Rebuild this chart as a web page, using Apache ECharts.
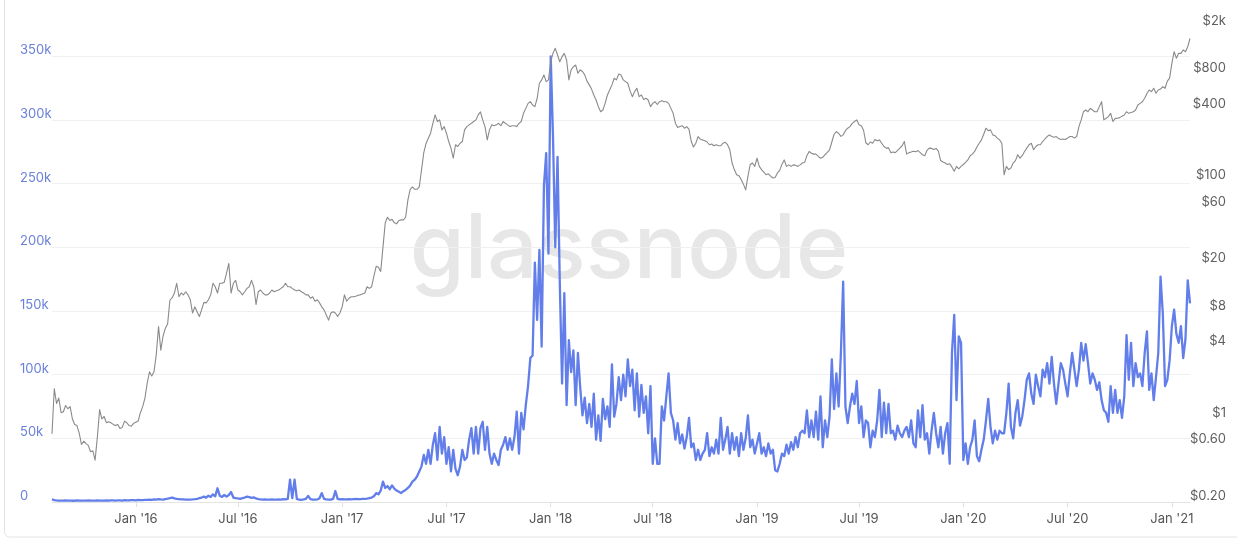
<!DOCTYPE html>
<html>
<head>
<meta charset="utf-8">
<style>
  html, body { margin: 0; padding: 0; background: #ffffff; }
  #chart { width: 1237px; height: 542px; }
</style>
<script src="https://cdn.jsdelivr.net/npm/echarts@6/dist/echarts.min.js"></script>
</head>
<body>
<div id="chart"></div>
<script>
// ---- data ----
const startDate = '2015-08-07';
const stepDays = 4;

// x-axis tick labels
const xTickDates = ['2016-01-01','2016-07-01','2017-01-01','2017-07-01','2018-01-01','2018-07-01',
                    '2019-01-01','2019-07-01','2020-01-01','2020-07-01','2021-01-01'];
const xTickLabels = ["Jan '16","Jul '16","Jan '17","Jul '17","Jan '18","Jul '18",
                     "Jan '19","Jul '19","Jan '20","Jul '20","Jan '21"];

// right (log) axis tick values, USD
const priceTicks = [0.2, 0.6, 1, 4, 8, 20, 60, 100, 400, 800, 2000];

// blue series, thousands (left axis)
const blueK = [
  2.0, 1.5, 1.2, 1.0, 1.1, 1.0, 1.2, 1.0, 1.1, 1.0,
  1.0, 1.2, 1.1, 1.0, 1.1, 1.0, 1.2, 1.1, 1.0, 1.1,
  1.2, 1.0, 1.1, 1.0, 1.2, 1.1, 1.3, 1.2, 1.1, 1.3,
  1.2, 1.1, 1.4, 1.3, 1.2, 1.5, 1.4, 1.3, 1.6, 1.5,
  1.4, 1.7, 1.6, 1.8, 1.7, 2.0, 1.8, 2.2, 2.0, 1.9,
  2.3, 2.6, 3.0, 3.5, 2.8, 2.4, 2.2, 2.0, 2.1, 1.9,
  1.8, 1.9, 2.0, 2.2, 2.5, 3.0, 3.5, 4.2, 3.4, 5.0,
  4.0, 6.0, 4.5, 10.8, 5.0, 4.0, 5.5, 4.2, 5.5, 7.8,
  3.5, 3.0, 2.8, 2.5, 3.0, 3.5, 4.2, 3.8, 3.2, 3.6,
  2.8, 2.2, 2.0, 1.8, 2.0, 1.9, 1.8, 2.0, 1.9, 1.8,
  2.0, 1.9, 2.2, 2.0, 2.5, 17.5, 3.0, 17.5, 2.5, 1.8,
  1.7, 2.0, 2.5, 4.8, 2.2, 1.8, 1.9, 2.0, 3.0, 7.0,
  2.4, 2.0, 1.8, 1.9, 2.5, 8.6, 2.5, 2.0, 2.2, 2.0,
  2.1, 2.3, 2.0, 2.2, 2.4, 2.2, 2.3, 2.5, 2.4, 2.6,
  3.0, 3.5, 4.5, 7.0, 6.0, 9.0, 16.0, 11.0, 12.5, 10.0,
  13.0, 10.5, 9.0, 8.0, 7.0, 8.5, 9.5, 11.0, 13.0, 16.0,
  17.5, 20.0, 24.0, 28.0, 37.0, 30.0, 41.0, 30.0, 45.0, 54.0,
  33, 59, 38, 51, 30, 43, 24, 41, 26, 21,
  28, 41, 33, 35, 49, 58, 38, 59, 38, 58,
  63, 41, 59, 38, 30, 38, 33, 29, 41, 45,
  51, 41, 50, 41, 51, 71, 38, 70, 57, 76,
  91, 113, 115, 188, 143, 198, 122, 248, 274, 195,
  350, 287, 200, 271, 172, 93, 164, 76, 127, 102,
  119, 76, 117, 90, 68, 82, 62, 77, 59, 85,
  49, 68, 48, 81, 65, 75, 59, 108, 67, 77,
  98, 80, 100, 83, 112, 91, 104, 72, 101, 67,
  92, 70, 83, 54, 91, 30, 50, 30, 30, 75,
  64, 83, 101, 70, 64, 49, 62, 46, 53, 42,
  51, 66, 43, 46, 33, 41, 33, 38, 41, 54,
  36, 43, 38, 49, 38, 66, 41, 49, 59, 38,
  54, 41, 51, 36, 54, 41, 50, 68, 43, 49,
  38, 46, 54, 38, 43, 36, 46, 38, 41, 25,
  24, 30, 38, 36, 45, 38, 47, 41, 51, 43,
  54, 56, 54, 72, 51, 64, 51, 71, 49, 83,
  43, 64, 51, 67, 112, 73, 101, 75, 117, 173,
  75, 62, 75, 85, 77, 95, 62, 75, 51, 64,
  62, 43, 56, 51, 64, 88, 51, 78, 54, 77,
  54, 56, 49, 60, 54, 51, 56, 59, 51, 64,
  46, 43, 72, 51, 76, 49, 54, 38, 56, 70,
  54, 43, 59, 38, 54, 62, 30, 117, 147, 80,
  130, 125, 33, 46, 30, 43, 49, 64, 36, 32,
  41, 49, 64, 81, 59, 46, 56, 49, 56, 54,
  54, 70, 93, 59, 50, 70, 80, 60, 67, 80,
  96, 101, 85, 77, 100, 91, 83, 104, 98, 109,
  93, 114, 93, 77, 93, 109, 104, 93, 83, 101,
  117, 104, 91, 104, 125, 111, 124, 109, 93, 101,
  96, 88, 94, 80, 72, 70, 63, 91, 70, 88,
  70, 80, 66, 83, 131, 96, 125, 91, 109, 98,
  101, 91, 117, 134, 88, 101, 80, 98, 117, 177,
  148, 91, 96, 111, 138, 151, 132, 125, 138, 113,
  128, 174, 156
];

// price series, USD (right log axis)
const priceUsd = [
  0.75, 1.8, 1.35, 1.5, 1.13, 1.15, 1.3, 1.22, 1.27, 1.0,
  0.9, 0.88, 0.76, 0.61, 0.65, 0.62, 0.6, 0.53, 0.54, 0.45,
  0.7, 1.2, 1.0, 1.05, 0.93, 0.95, 0.93, 0.9, 0.88, 0.9,
  0.83, 0.85, 0.96, 0.93, 0.88, 0.87, 0.92, 0.94, 0.96, 1.13,
  1.27, 1.5, 2.0, 2.5, 2.3, 2.5, 3.5, 6.0, 3.8, 5.0,
  5.8, 6.3, 10.0, 10.5, 11.5, 13.9, 10.7, 11.5, 11.1, 11.8,
  11.1, 10.1, 7.8, 8.8, 8.0, 7.3, 8.3, 9.6, 9.5, 10.1,
  11.1, 13.9, 13.0, 11.5, 13.9, 13.9, 14.2, 16.9, 20.4, 11.5,
  13.9, 14.7, 12.2, 11.8, 11.1, 11.8, 12.6, 13.0, 14.7, 13.0,
  9.2, 11.8, 12.2, 11.5, 11.1, 11.1, 11.5, 12.2, 11.8, 12.0,
  12.2, 12.6, 13.0, 13.9, 13.0, 13.0, 12.6, 12.2, 12.0, 12.2,
  11.8, 11.5, 11.1, 11.1, 10.4, 10.7, 9.8, 10.1, 9.5, 8.8,
  8.3, 7.5, 6.8, 7.8, 8.0, 7.8, 7.3, 7.8, 8.8, 11.1,
  9.8, 10.4, 10.7, 10.7, 10.8, 11.0, 11.1, 11.3, 11.5, 13.0,
  12.6, 13.0, 16.0, 19.3, 19.0, 17.5, 28, 45, 50, 47,
  48, 45, 44, 47, 47.5, 47.5, 50, 70, 86, 90,
  86, 86, 90, 125, 175, 209, 231, 255, 309, 364,
  320, 330, 272, 290, 255, 217, 191, 157, 204, 197,
  210, 217, 272, 290, 300, 309, 320, 330, 364, 386,
  330, 290, 224, 272, 300, 295, 300, 309, 295, 320,
  309, 300, 290, 295, 295, 290, 309, 320, 375, 413,
  455, 470, 441, 427, 500, 672, 717, 790, 694, 717,
  1020, 1200, 1322, 1162, 1020, 1125, 1200, 1055, 717, 870,
  926, 957, 815, 870, 843, 790, 700, 651, 600, 535,
  486, 427, 387, 400, 455, 535, 590, 651, 741, 717,
  804, 790, 717, 694, 672, 580, 518, 571, 610, 518,
  535, 490, 502, 486, 427, 455, 470, 445, 470, 478,
  470, 470, 455, 413, 375, 310, 285, 290, 295, 281,
  290, 275, 217, 195, 210, 239, 227, 224, 220, 215,
  204, 207, 200, 204, 200, 200, 210, 214, 204, 185,
  143, 126, 114, 112, 104, 95, 85, 111, 139, 143,
  134, 157, 134, 126, 120, 114, 116, 111, 107, 108,
  118, 124, 140, 152, 134, 138, 134, 138, 137, 134,
  138, 143, 145, 165, 179, 173, 170, 170, 163, 157,
  160, 168, 176, 185, 215, 250, 263, 255, 240, 247,
  268, 281, 290, 309, 320, 330, 300, 295, 270, 212,
  204, 215, 210, 226, 220, 224, 210, 197, 191, 192,
  175, 177, 175, 183, 191, 200, 217, 170, 175, 177,
  180, 178, 182, 175, 168, 165, 183, 191, 190, 186,
  190, 180, 150, 146, 143, 139, 141, 132, 122, 134,
  128, 134, 139, 145, 152, 165, 170, 179, 195, 210,
  224, 250, 281, 268, 272, 247, 243, 232, 224, 210,
  114, 134, 126, 130, 143, 150, 168, 157, 165, 179,
  191, 204, 210, 185, 197, 204, 204, 217, 228, 239,
  247, 239, 236, 239, 230, 226, 228, 226, 232, 239,
  239, 232, 239, 290, 330, 387, 400, 387, 413, 400,
  387, 387, 427, 470, 330, 341, 352, 375, 320, 340,
  341, 345, 355, 363, 387, 375, 381, 387, 400, 441,
  455, 470, 502, 550, 590, 571, 610, 553, 590, 600,
  630, 610, 700, 741, 988, 1239, 1090, 1200, 1200, 1282,
  1239, 1365, 1600
];

// ---- build ----
const DAY = 86400000;
const t0 = Date.parse(startDate + 'T00:00:00Z');
const n = Math.max(blueK.length, priceUsd.length);
const dates = Array.from({ length: n }, (_, i) =>
  new Date(t0 + i * stepDays * DAY).toISOString().slice(0, 10));
const tickLabelAt = {};
xTickDates.forEach((d, k) => {
  const idx = Math.round((Date.parse(d + 'T00:00:00Z') - t0) / (stepDays * DAY));
  tickLabelAt[idx] = xTickLabels[k];
});
const isTick = (idx) => Object.prototype.hasOwnProperty.call(tickLabelAt, idx);

function fmtPrice(v) {
  if (v >= 1000) return '$' + (v / 1000) + 'k';
  if (v < 1) return '$' + v.toFixed(2);
  return '$' + v;
}

const chart = echarts.init(document.getElementById('chart'), null, { renderer: 'canvas' });
chart.setOption({
  animation: false,
  backgroundColor: '#ffffff',
  textStyle: { fontFamily: 'Inter, "Noto Sans", sans-serif' },
  graphic: [
    {
      type: 'rect', silent: true, z: 0,
      shape: { x: 4.5, y: -8, width: 1245, height: 545, r: 5 },
      style: { fill: 'none', stroke: '#e3e3e3', lineWidth: 1 }
    },
    {
      type: 'text', silent: true, z: 0,
      x: 629, y: 251,
      style: {
        text: 'glassnode',
        font: '500 89px Inter, "Noto Sans", sans-serif',
        fill: '#e7e7e7',
        align: 'center',
        verticalAlign: 'middle'
      }
    }
  ],
  grid: { left: 52, right: 47, top: 27, bottom: 40 },
  xAxis: {
    type: 'category',
    data: dates,
    boundaryGap: false,
    axisLine: { show: true, lineStyle: { color: '#e4e4e4', width: 1 } },
    axisTick: { show: true, interval: (idx) => isTick(idx), length: 5, lineStyle: { color: '#e0e0e0' } },
    axisLabel: {
      interval: (idx) => isTick(idx),
      formatter: (v, idx) => tickLabelAt[idx] || '',
      color: '#555555', fontSize: 13, margin: 11,
      fontFamily: 'Inter, "Noto Sans", sans-serif'
    },
    splitLine: { show: false }
  },
  yAxis: [
    {
      type: 'value', position: 'left',
      min: 0, max: 373, interval: 50,
      axisLine: { show: false }, axisTick: { show: false },
      splitLine: { show: true, showMaxLine: false, lineStyle: { color: '#f0f0f0', width: 1 } },
      axisLabel: {
        showMaxLabel: false,
        formatter: (v) => (v === 0 ? '0' : v + 'k'),
        color: '#6a80d9', fontSize: 13, align: 'left', margin: 32,
        verticalAlign: 'bottom', lineHeight: 12,
        fontFamily: 'Inter, "Noto Sans", sans-serif'
      }
    },
    {
      type: 'log', logBase: 10, position: 'right',
      min: 0.2, max: 2000,
      axisLine: { show: false }, axisTick: { show: false },
      splitLine: { show: false },
      axisLabel: {
        customValues: priceTicks,
        formatter: (v) => fmtPrice(v),
        color: '#5f5f5f', fontSize: 13, align: 'right', margin: 36,
        verticalAlign: 'bottom', lineHeight: 12,
        fontFamily: 'Inter, "Noto Sans", sans-serif'
      }
    }
  ],
  series: [
    {
      type: 'line', name: 'New addresses', yAxisIndex: 0,
      data: blueK, showSymbol: false, symbol: 'none', z: 3,
      lineStyle: { color: '#627EEA', width: 2.3, join: 'round' },
      emphasis: { disabled: true }, silent: true
    },
    {
      type: 'line', name: 'Price', yAxisIndex: 1,
      data: priceUsd, showSymbol: false, symbol: 'none', z: 4,
      lineStyle: { color: '#8a8a8a', width: 1.1, join: 'round' },
      emphasis: { disabled: true }, silent: true
    }
  ]
});
</script>
</body>
</html>
